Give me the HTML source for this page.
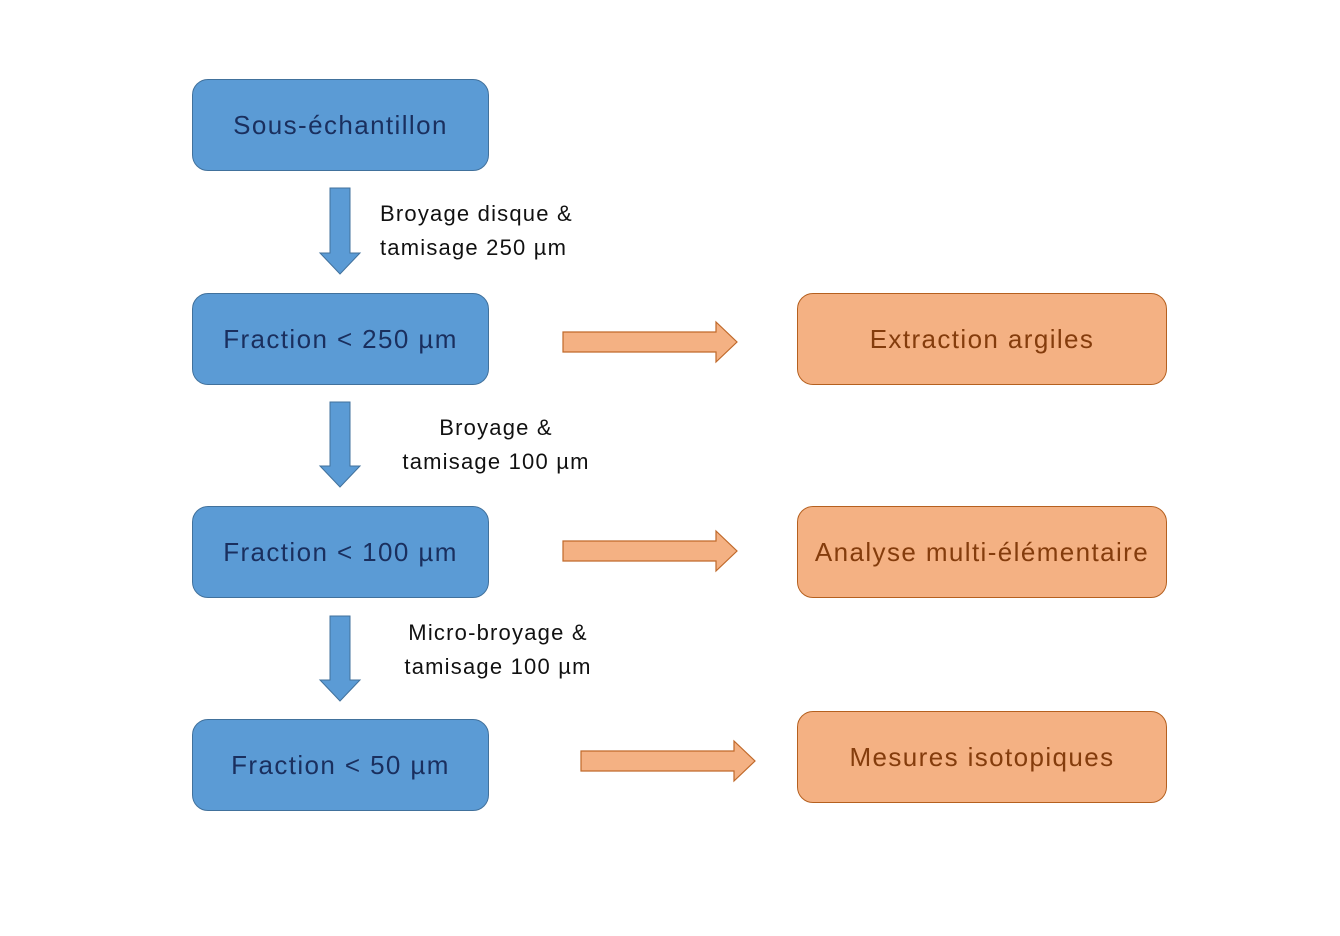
<!DOCTYPE html>
<html><head><meta charset="utf-8"><style>
body{margin:0;width:1340px;height:936px;background:#fff;position:relative;overflow:hidden;font-family:"Liberation Sans",sans-serif}
.b{position:absolute;box-sizing:border-box;border-radius:16px;display:flex;align-items:center;justify-content:center;font-size:26px;letter-spacing:1.4px}
.bl{background:#5b9bd5;border:1.5px solid #41719c;color:#1a2f5e;left:192px;width:297px;height:92px}
.or{background:#f4b183;border:1.5px solid #b5601f;color:#843c0c;left:797px;width:370px;height:92px}
.t{position:absolute;font-size:22px;color:#111;line-height:34px;letter-spacing:1.2px}
svg{position:absolute;left:0;top:0}
</style></head><body>
<svg width="1340" height="936">
<g fill="#5b9bd5" stroke="#41719c" stroke-width="1">
<polygon points="330,188 350,188 350,253 360,253 340,274 320,253 330,253"/>
<polygon points="330,402 350,402 350,466 360,466 340,487 320,466 330,466"/>
<polygon points="330,616 350,616 350,680 360,680 340,701 320,680 330,680"/>
</g>
<g fill="#f4b183" stroke="#c0692a" stroke-width="1.2">
<polygon points="563,332 716,332 716,322 737,342 716,362 716,352 563,352"/>
<polygon points="563,541 716,541 716,531 737,551 716,571 716,561 563,561"/>
<polygon points="581,751 734,751 734,741 755,761 734,781 734,771 581,771"/>
</g>
</svg>
<div class="b bl" style="top:79px">Sous-échantillon</div>
<div class="b bl" style="top:293px">Fraction &lt; 250 µm</div>
<div class="b bl" style="top:506px">Fraction &lt; 100 µm</div>
<div class="b bl" style="top:719px">Fraction &lt; 50 µm</div>
<div class="b or" style="top:293px">Extraction argiles</div>
<div class="b or" style="top:506px">Analyse multi-élémentaire</div>
<div class="b or" style="top:711px">Mesures isotopiques</div>
<div class="t" style="left:380px;top:197px">Broyage disque &amp;<br>tamisage 250 µm</div>
<div class="t" style="left:386px;top:411px;text-align:center;width:220px">Broyage &amp;<br>tamisage 100 µm</div>
<div class="t" style="left:388px;top:616px;text-align:center;width:220px">Micro-broyage &amp;<br>tamisage 100 µm</div>
</body></html>
